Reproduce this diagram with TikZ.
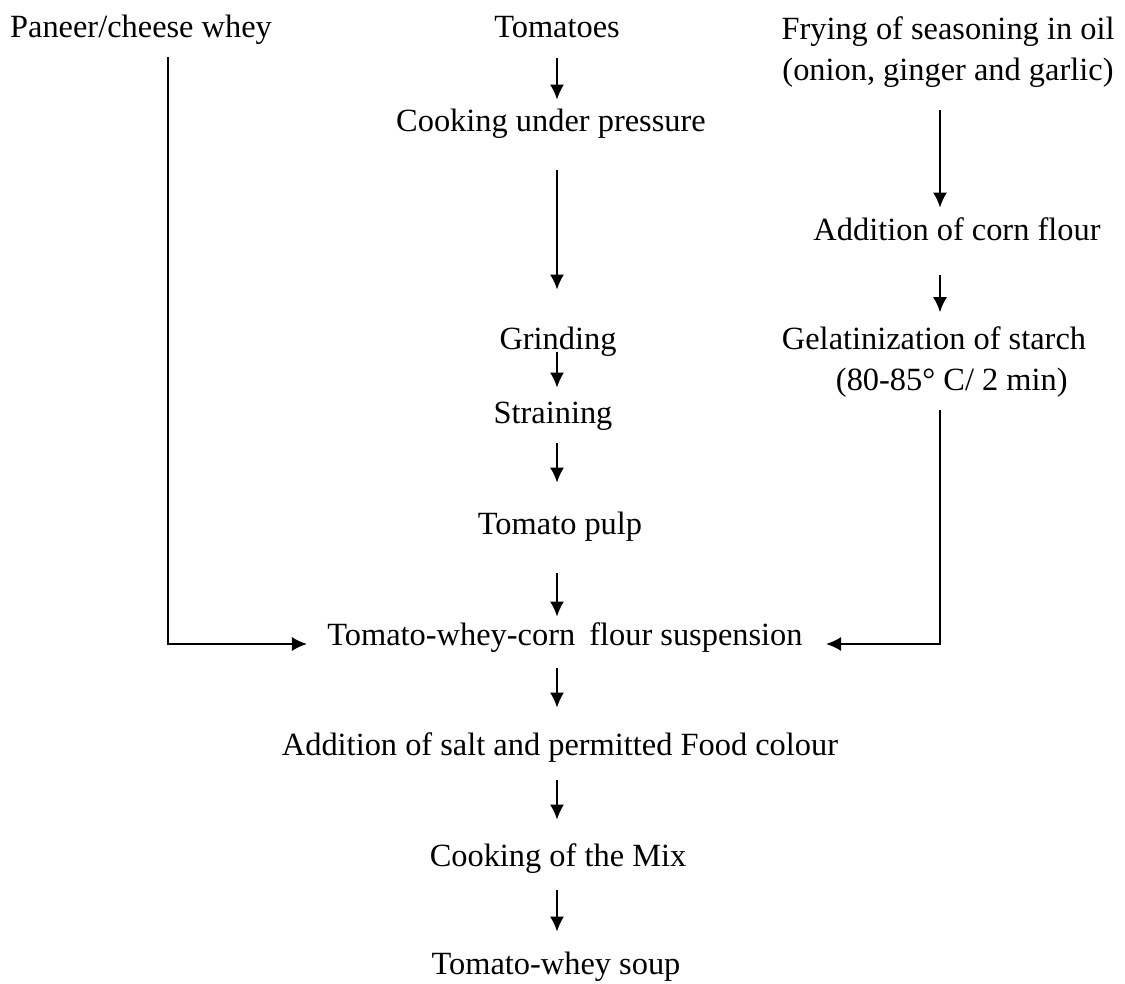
\documentclass[tikz,border=0pt]{standalone}
\usepackage{fontspec}
\setmainfont{Liberation Serif}
\usetikzlibrary{arrows.meta}

\begin{document}
\begin{tikzpicture}[x=0.5pt,y=-0.5pt,font=\fontsize{16.2}{20.5}\selectfont,
	txt/.style={inner sep=0pt,text height=13pt,text depth=2pt},
	blk/.style={inner sep=0pt},
	flow/.style={-{Latex[length=7.5pt,width=7pt]},line width=0.9pt}]
				\useasboundingbox (0,0) rectangle (1125,984);
				% middle column
				\node[txt] (pan) at (141,27) {Paneer/cheese whey};
				\node[txt] (tom) at (557,27) {Tomatoes};
				\node[txt] (cook) at (551,121) {Cooking under pressure};
				\node[txt] (grind) at (558,339) {Grinding};
				\node[txt] (strain) at (553,412) {Straining};
				\node[txt] (pulp) at (560,523) {Tomato pulp};
				\node[txt] (susp) at (565,634) {Tomato-whey-corn\hspace{3pt} flour suspension};
				\node[txt] (salt) at (560,744) {Addition of salt and permitted Food colour};
				\node[txt] (mix) at (558,855) {Cooking of the Mix};
				\node[txt] (soup) at (556,963) {Tomato-whey soup};
				% right column
				\node[blk,align=center] (fry) at (948,52) {Frying of seasoning in oil\\(onion, ginger and garlic)};
				\node[txt] (corn) at (957,230) {Addition of corn flour};
				\node[blk,align=left] (gel) at (934,362) {Gelatinization of starch\\\hspace{27pt}(80-85° C/ 2 min)};
				\coordinate (lx) at (168,0);
				\coordinate (rx) at (940,0);
				% arrows
				\draw[flow,shorten <=8pt,shorten >=3pt] (tom.south -| tom) -- (cook.north -| tom);
				\draw[flow,shorten <=17pt,shorten >=17pt] (cook.south -| tom) -- (grind.north -| tom);
				\draw[flow,shorten <=-1pt,shorten >=4.5pt] (grind.south -| tom) -- (strain.north -| tom);
				\draw[flow,shorten <=8pt,shorten >=12.5pt] (strain.south -| tom) -- (pulp.north -| tom);
				\draw[flow,shorten <=17.5pt,shorten >=1pt] (pulp.south -| tom) -- (susp.north -| tom);
				\draw[flow,shorten <=9.5pt,shorten >=10.5pt] (susp.south -| tom) -- (salt.north -| tom);
				\draw[flow,shorten <=10.5pt,shorten >=10pt] (salt.south -| tom) -- (mix.north -| tom);
				\draw[flow,shorten <=10pt,shorten >=8pt] (mix.south -| tom) -- (soup.north -| tom);
				\draw[flow,shorten <=11pt,shorten >=3.5pt] (fry.south -| rx) -- (corn.north -| rx);
				\draw[flow,shorten <=15pt,shorten >=7pt] (corn.south -| rx) -- (gel.north -| rx);
				\draw[flow,shorten <=6pt,shorten >=11.5pt] (gel.south -| rx) |- ([yshift=-5pt]susp.east);
				\draw[flow,shorten <=7.5pt,shorten >=10pt] (pan.south -| lx) |- ([yshift=-5pt]susp.west);
			\end{tikzpicture}
\end{document}
